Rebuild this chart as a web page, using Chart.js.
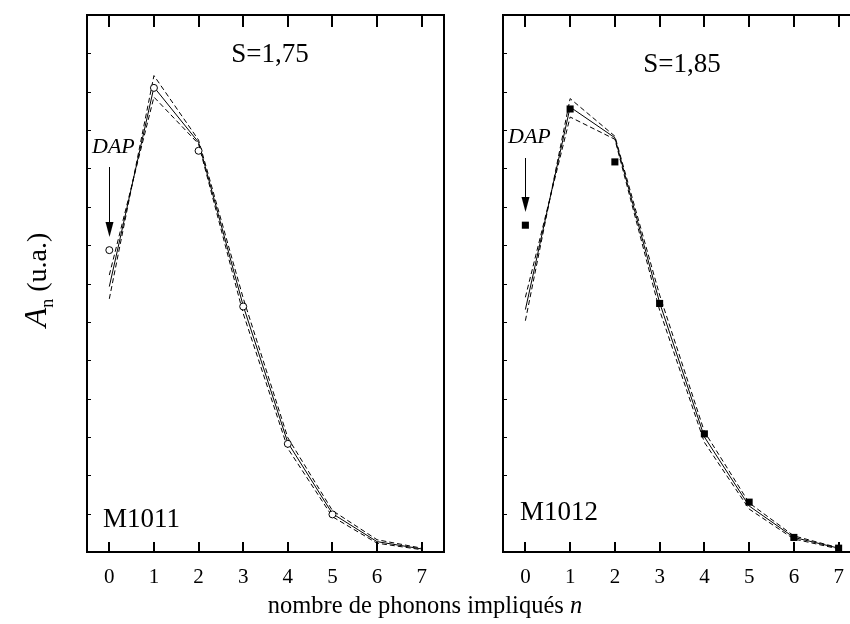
<!DOCTYPE html>
<html><head><meta charset="utf-8">
<script src="https://cdn.jsdelivr.net/npm/chart.js@4.4.0/dist/chart.umd.min.js"></script>
<style>
html,body{margin:0;padding:0;background:#fff;overflow:hidden;width:850px;height:624px;}
#wrap{position:relative;width:850px;height:624px;overflow:hidden;}
canvas{position:absolute;top:0;}
#c1{left:0;}
#c2{left:450px;}
.xt{position:absolute;left:0;width:850px;top:592px;height:26px;line-height:26px;text-align:center;font-family:"Liberation Serif";font-size:24.5px;color:#000;white-space:nowrap;}
.yt{position:absolute;left:-45px;top:262px;width:160px;height:36px;line-height:36px;text-align:center;font-family:"Liberation Serif";font-size:28px;color:#000;transform:rotate(-90deg);white-space:nowrap;}
.yt i{font-size:32px;}
.yt sub{font-size:18px;}
</style>
</head><body>
<div id="wrap">
<canvas id="c1" width="450" height="624"></canvas>
<canvas id="c2" width="420" height="624"></canvas>
<div class="yt"><i>A</i><sub>n</sub> (u.a.)</div>
<div class="xt">nombre de phonons impliqués <i>n</i></div>
</div>
<script>
// phonon number n
const nValues = [0, 1, 2, 3, 4, 5, 6, 7];
const xTicks = [0, 1, 2, 3, 4, 5, 6, 7];
const yTicks = [1, 2, 3, 4, 5, 6, 7, 8, 9, 10, 11, 12, 13];

// M1011, S=1,75 (open circles, n = 0..5)
const leftPointsN = [0, 1, 2, 3, 4, 5];
const leftPoints = [7.87, 12.10, 10.46, 6.40, 2.82, 0.98];
const leftFit = [6.92, 12.12, 10.68, 6.42, 2.85, 1.00, 0.27, 0.08];
const leftFitHigh = [6.60, 12.42, 10.74, 6.62, 2.98, 1.08, 0.32, 0.10];
const leftFitLow = [7.22, 11.86, 10.64, 6.22, 2.70, 0.92, 0.23, 0.06];

// M1012, S=1,85 (filled squares, n = 0..7)
const rightPointsN = [0, 1, 2, 3, 4, 5, 6, 7];
const rightPoints = [8.52, 11.55, 10.17, 6.48, 3.08, 1.30, 0.38, 0.10];
const rightFit = [6.32, 11.60, 10.80, 6.50, 3.00, 1.20, 0.38, 0.10];
const rightFitHigh = [6.03, 11.82, 10.84, 6.70, 3.14, 1.28, 0.42, 0.11];
const rightFitLow = [6.64, 11.34, 10.76, 6.30, 2.86, 1.12, 0.34, 0.08];

const SERIF = '"Liberation Serif", "Times New Roman", serif';

function pts(xs, ys) { return xs.map((v, i) => ({ x: v, y: ys[i] })); }

function framePlugin(ann) {
  return {
    id: 'frame',
    afterDraw(chart) {
      const { ctx, chartArea: a, scales: { x, y } } = chart;
      ctx.save();
      ctx.strokeStyle = '#000';
      ctx.lineWidth = 2;
      ctx.strokeRect(a.left, a.top, a.right - a.left, a.bottom - a.top);
      xTicks.forEach(v => {
        const px = Math.round(x.getPixelForValue(v));
        ctx.beginPath();
        ctx.moveTo(px, a.top); ctx.lineTo(px, a.top + 12);
        ctx.moveTo(px, a.bottom); ctx.lineTo(px, a.bottom - 10);
        ctx.stroke();
      });
      ctx.lineWidth = 1;
      yTicks.forEach(v => {
        const py = Math.round(y.getPixelForValue(v)) + 0.5;
        ctx.beginPath();
        ctx.moveTo(a.left, py); ctx.lineTo(a.left + 4, py);
        ctx.stroke();
      });
      // texts
      ctx.fillStyle = '#000';
      ctx.textBaseline = 'alphabetic';
      ctx.font = '27px ' + SERIF;
      ctx.textAlign = 'center';
      ctx.fillText(ann.s, a.left + ann.sdx, a.top + ann.sdy);
      ctx.textAlign = 'left';
      ctx.fillText(ann.m, a.left + ann.mdx, a.top + ann.mdy);
      ctx.font = 'italic 22px ' + SERIF;
      ctx.fillText('DAP', a.left + ann.ddx, a.top + ann.ddy);
      // arrow at n = 0
      const ax = Math.round(x.getPixelForValue(0)) + 0.5;
      const y1 = a.top + ann.a1, y2 = a.top + ann.a2;
      ctx.lineWidth = 1;
      ctx.beginPath();
      ctx.moveTo(ax, y1); ctx.lineTo(ax, y2 - 12);
      ctx.stroke();
      ctx.beginPath();
      ctx.moveTo(ax - 4, y2 - 15); ctx.lineTo(ax + 4, y2 - 15); ctx.lineTo(ax, y2);
      ctx.closePath();
      ctx.fill();
      ctx.restore();
    }
  };
}

function makeChart(id, padding, datasets, ann) {
  new Chart(document.getElementById(id), {
    type: 'line',
    data: { datasets },
    options: {
      responsive: false,
      animation: false,
      events: [],
      layout: { padding },
      plugins: { legend: { display: false }, tooltip: { enabled: false } },
      scales: {
        x: {
          type: 'linear', min: -0.5, max: 7.5,
          afterBuildTicks: s => { s.ticks = xTicks.map(v => ({ value: v })); },
          afterFit: s => { s.height = 72; },
          grid: { display: false },
          border: { display: false },
          ticks: { color: '#000', font: { family: SERIF, size: 21 }, padding: 5, maxRotation: 0, autoSkip: false }
        },
        y: { type: 'linear', min: 0, max: 14, display: false }
      }
    },
    plugins: [framePlugin(ann)]
  });
}

function lineDs(label, data, dash) {
  return { label, data: pts(nValues, data), borderColor: '#000', borderWidth: 1, borderDash: dash, pointRadius: 0, tension: 0, fill: false };
}

makeChart('c1', { left: 87, right: 6, top: 15, bottom: 0 }, [
  { label: 'M1011', data: pts(leftPointsN, leftPoints), showLine: false, pointStyle: 'circle', pointRadius: 3.5,
    pointBackgroundColor: '#fff', pointBorderColor: '#000', pointBorderWidth: 1 },
  lineDs('fit', leftFit, []),
  lineDs('fit+', leftFitHigh, [5, 3]),
  lineDs('fit-', leftFitLow, [5, 3])
], { s: 'S=1,75', sdx: 183, sdy: 47, m: 'M1011', mdx: 16, mdy: 512, ddx: 5, ddy: 138, a1: 152, a2: 222 });

makeChart('c2', { left: 53, right: 9, top: 15, bottom: 0 }, [
  { label: 'M1012', data: pts(rightPointsN, rightPoints), showLine: false, pointStyle: 'rect', pointRadius: 5,
    pointBackgroundColor: '#000', pointBorderColor: '#000', pointBorderWidth: 0 },
  lineDs('fit', rightFit, []),
  lineDs('fit+', rightFitHigh, [5, 3]),
  lineDs('fit-', rightFitLow, [5, 3])
], { s: 'S=1,85', sdx: 179, sdy: 57, m: 'M1012', mdx: 17, mdy: 505, ddx: 5, ddy: 128, a1: 143, a2: 197 });
</script>
</body></html>
